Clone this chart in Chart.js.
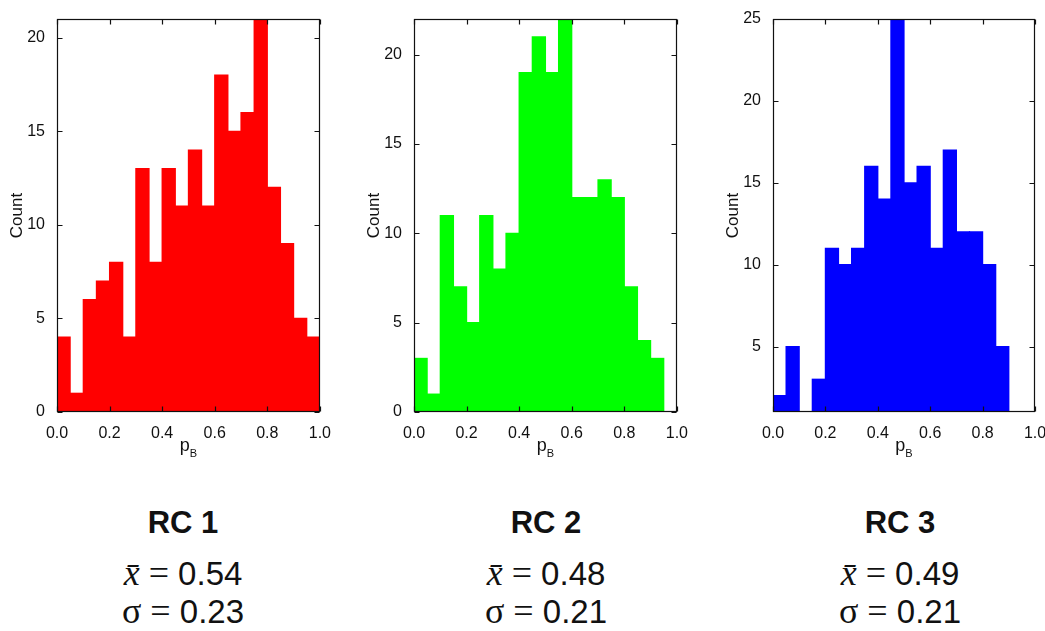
<!DOCTYPE html>
<html>
<head>
<meta charset="utf-8">
<script src="https://cdn.jsdelivr.net/npm/chart.js@4/dist/chart.umd.min.js"></script>
<style>
  body { margin: 0; background: #fff; width: 1045px; height: 631px; overflow: hidden; position: relative;
         font-family: "Liberation Sans", Arial, sans-serif; color: #111; }
  canvas { position: absolute; top: 0; }
  .stats { position: absolute; width: 260px; text-align: center; white-space: nowrap; }
  .rc { position: absolute; left: 0; width: 100%; font-weight: bold; font-size: 31px; line-height: 31px; }
  .line { position: absolute; left: 0; width: 100%; font-size: 33px; line-height: 33px; }
  .sym { font-family: "Liberation Serif", "DejaVu Serif", serif; font-size: 36px; }
</style>
</head>
<body>
<canvas id="rc1" width="335" height="470" style="left:0px"></canvas>
<canvas id="rc2" width="335" height="470" style="left:357px"></canvas>
<canvas id="rc3" width="345" height="470" style="left:716px"></canvas>
<div id="labels"></div>

<script>
// bin centres of the 20 histogram bins (width 0.05)
const binCenters = [0.025, 0.075, 0.125, 0.175, 0.225, 0.275, 0.325, 0.375, 0.425, 0.475,
                    0.525, 0.575, 0.625, 0.675, 0.725, 0.775, 0.825, 0.875, 0.925, 0.975];
const xTicks = [0, 0.2, 0.4, 0.6, 0.8, 1.0];

// counts per bin
const rc1Counts = [4, 1, 6, 7, 8, 4, 13, 8, 13, 11, 14, 11, 18, 15, 16, 21, 12, 9, 5, 4];
const rc2Counts = [3, 1, 11, 7, 5, 11, 8, 10, 19, 21, 19, 22, 12, 12, 13, 12, 7, 4, 3, 0];
const rc3Counts = [2, 5, 1, 3, 11, 10, 11, 16, 14, 25, 15, 16, 11, 17, 12, 12, 10, 5, 1, 1];

const rc1YTicks = [0, 5, 10, 15, 20];
const rc2YTicks = [0, 5, 10, 15, 20];
const rc3YTicks = [5, 10, 15, 20, 25];

const panelNames = ['RC 1', 'RC 2', 'RC 3'];
const means = ['0.54', '0.48', '0.49'];
const sigmas = ['0.23', '0.21', '0.21'];

// draws the box, inward ticks on all sides and the axis titles
const framePlugin = {
  id: 'frame',
  afterDraw(chart) {
    const { ctx, chartArea: a, scales } = chart;
    const L = Math.round(a.left) + 0.5, R = Math.round(a.right) - 0.5;
    const T = Math.round(a.top) + 0.5, B = Math.round(a.bottom) - 0.5;
    ctx.save();
    ctx.strokeStyle = '#111';
    ctx.lineWidth = 1.2;
    ctx.strokeRect(L, T, R - L, B - T);
    ctx.beginPath();
    scales.x.ticks.forEach(t => {
      const px = Math.round(scales.x.getPixelForValue(t.value)) + 0.5;
      ctx.moveTo(px, B); ctx.lineTo(px, B - 5);
      ctx.moveTo(px, T); ctx.lineTo(px, T + 5);
    });
    scales.y.ticks.forEach(t => {
      const py = Math.round(scales.y.getPixelForValue(t.value)) + 0.5;
      ctx.moveTo(L, py); ctx.lineTo(L + 5, py);
      ctx.moveTo(R, py); ctx.lineTo(R - 5, py);
    });
    ctx.stroke();

    // y title
    ctx.fillStyle = '#111';
    ctx.font = '17px "Liberation Sans", Arial, sans-serif';
    ctx.textAlign = 'center';
    ctx.textBaseline = 'middle';
    ctx.save();
    ctx.translate(17, (a.top + a.bottom) / 2);
    ctx.rotate(-Math.PI / 2);
    ctx.fillText('Count', 0, 0);
    ctx.restore();

    // x title p_B
    const cx = (a.left + a.right) / 2;
    ctx.textBaseline = 'alphabetic';
    ctx.textAlign = 'left';
    ctx.font = '18px "Liberation Sans", Arial, sans-serif';
    const pw = ctx.measureText('p').width;
    ctx.font = '11px "Liberation Sans", Arial, sans-serif';
    const bw = ctx.measureText('B').width;
    const x0 = cx - (pw + bw) / 2;
    ctx.font = '18px "Liberation Sans", Arial, sans-serif';
    ctx.fillText('p', x0, 451);
    ctx.font = '11px "Liberation Sans", Arial, sans-serif';
    ctx.fillText('B', x0 + pw, 457);
    ctx.restore();
  }
};

function makeHist(id, counts, color, yMin, yMax, yTicks, padRight) {
  const tickFont = { family: '"Liberation Sans", Arial, sans-serif', size: 16 };
  new Chart(document.getElementById(id), {
    type: 'bar',
    data: {
      datasets: [{
        data: binCenters.map((c, i) => ({ x: c, y: counts[i] })),
        backgroundColor: color,
        borderWidth: 0,
        inflateAmount: 0.6,
        barPercentage: 1,
        categoryPercentage: 1
      }]
    },
    options: {
      responsive: false,
      animation: false,
      layout: { padding: { top: 19, right: padRight, left: 0, bottom: 0 } },
      plugins: { legend: { display: false }, tooltip: { enabled: false } },
      scales: {
        x: {
          type: 'linear', min: 0, max: 1, offset: false,
          grid: { display: false }, border: { display: false },
          afterBuildTicks: s => { s.ticks = xTicks.map(v => ({ value: v })); },
          afterFit: s => { s.height = 58; },
          ticks: { autoSkip: false, maxRotation: 0, padding: 4, color: '#111', font: tickFont,
                   callback: v => v.toFixed(1) }
        },
        y: {
          min: yMin, max: yMax,
          grid: { display: false }, border: { display: false },
          afterBuildTicks: s => { s.ticks = yTicks.map(v => ({ value: v })); },
          afterFit: s => { s.width = 57; },
          ticks: { padding: 4, color: '#111', font: tickFont }
        }
      }
    },
    plugins: [framePlugin]
  });
}

makeHist('rc1', rc1Counts, '#ff0000', 0, 21, rc1YTicks, 14);
makeHist('rc2', rc2Counts, '#00ff00', 0, 22, rc2YTicks, 14);
makeHist('rc3', rc3Counts, '#0000ff', 1, 25, rc3YTicks, 26);

// summary text under each panel
const centers = [183, 546, 900];
const holder = document.getElementById('labels');
panelNames.forEach((name, i) => {
  const d = document.createElement('div');
  d.className = 'stats';
  d.style.left = (centers[i] - 130) + 'px';
  d.style.top = '0px';
  d.innerHTML =
    '<div class="rc" style="top:507px">' + name + '</div>' +
    '<div class="line" style="top:557px"><span class="sym"><i>x\u0304</i> =</span> ' + means[i] + '</div>' +
    '<div class="line" style="top:595px"><span class="sym">\u03c3 =</span> ' + sigmas[i] + '</div>';
  holder.appendChild(d);
});
</script>
</body>
</html>
